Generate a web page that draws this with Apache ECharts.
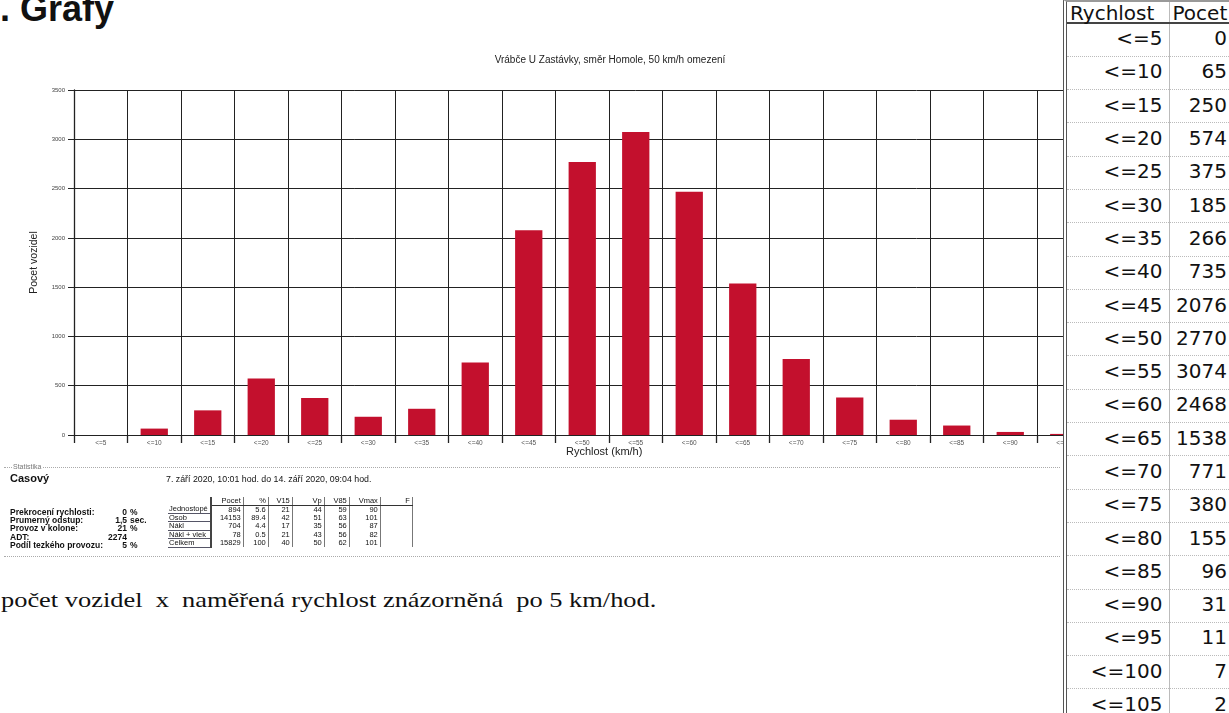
<!DOCTYPE html>
<html><head><meta charset="utf-8">
<script src="https://cdn.jsdelivr.net/npm/echarts@6/dist/echarts.min.js"></script>
<style>
html,body{margin:0;padding:0;background:#fff;width:1229px;height:713px;overflow:hidden;}
body{position:relative;font-family:"Liberation Sans",Arial,sans-serif;color:#111;}
#heading{position:absolute;left:0;top:-9px;font-size:36px;line-height:1;font-weight:bold;color:#111;white-space:nowrap;}
#chart{position:absolute;left:0;top:0;width:1229px;height:470px;}
#statbox{position:absolute;left:4px;top:467px;width:1056px;height:88px;border-top:1px dotted #aaa;border-bottom:1px dotted #aaa;}
.abs{position:absolute;white-space:nowrap;}
#statlegend{left:8px;top:-5px;font-size:7px;color:#777;background:#fff;padding:0 1px;line-height:8px;}
#casovy{left:6px;top:4px;font-size:11px;font-weight:bold;line-height:12px;}
.slab{font-size:8.5px;font-weight:bold;line-height:8px;}
.sval{font-size:8.5px;font-weight:bold;line-height:8px;text-align:right;width:40px;}
.sunit{font-size:8.5px;font-weight:bold;line-height:8px;}
#daterange{left:162px;top:7px;font-size:8.8px;line-height:9px;}
table.cls{position:absolute;left:164px;top:29px;border-collapse:collapse;font-size:7.5px;line-height:7.5px;}
table.cls td{padding:0 2px 0 1px;height:7.5px;text-align:right;border-right:1px solid #777;white-space:nowrap;}
table.cls tr.hdr td{border-bottom:1px solid #333;}
table.cls td.lab{text-align:left;border-bottom:1px solid #556;border-right:2px solid #444;width:36px;}
table.cls tr.hdr td.lab{border-bottom:none;border-right:2px solid #444;}
#caption{position:absolute;left:1px;top:587px;font-family:"Liberation Serif","Times New Roman",serif;font-size:22px;line-height:26px;white-space:pre;color:#111;transform:scaleX(1.2);transform-origin:0 0;}
#rtable{position:absolute;left:1063px;top:0px;width:170px;height:713px;background:#fff;border-left:4px double #555;border-top:2px solid #999;box-sizing:border-box;overflow:hidden;}
table.rt{border-collapse:collapse;table-layout:fixed;width:164px;font-family:"DejaVu Sans","Liberation Sans",sans-serif;font-size:20px;color:#111;}
table.rt td{box-sizing:border-box;height:33.3px;padding:0 0 3px 0;text-align:right;border-bottom:1px dotted #bbb;line-height:20px;white-space:nowrap;}
table.rt td.c1{width:102px;border-right:1px solid #bbb;padding-right:6px;}
table.rt td.c2{width:62px;padding-right:4px;}
table.rt tr.h td{height:19px;line-height:18px;border-bottom:2px solid #444;text-align:left;padding:2px 0 0 3px;vertical-align:top;}
</style></head>
<body>
<div id="heading">. Grafy</div>
<div id="chart"></div>
<div id="statbox">
  <div class="abs" id="statlegend">Statistika</div>
  <div class="abs" id="casovy">Casový</div>
  <div class="abs" id="daterange"></div>
  <div id="statleft"></div>
  <table class="cls" id="clstable"></table>
</div>
<div id="caption">počet vozidel  x  naměřená rychlost znázorněná  po 5 km/hod.</div>
<div id="rtable"><table class="rt" id="rt"></table></div>
<script>
// ---- data ----
const categories = ['<=5','<=10','<=15','<=20','<=25','<=30','<=35','<=40','<=45','<=50','<=55','<=60','<=65','<=70','<=75','<=80','<=85','<=90','<=95','<=100','<=105'];
const counts = [0,65,250,574,375,185,266,735,2076,2770,3074,2468,1538,771,380,155,96,31,11,7,2];
const yMin = 0, yMax = 3500, yStep = 500;
const chartTitle = 'Vrábče U Zastávky, směr Homole, 50 km/h omezení';
const xName = 'Rychlost (km/h)';
const yName = 'Pocet vozidel';
const dateRange = '7. září 2020, 10:01 hod. do 14. září 2020, 09:04 hod.';
const statLabels = ['Prekrocení rychlosti:','Prumerný odstup:','Provoz v kolone:','ADT:','Podíl tezkého provozu:'];
const statValues = ['0','1,5','21','2274','5'];
const statUnits = ['%','sec.','%','','%'];
const classRows = ['Jednostopé','Osob','Nákl','Nákl + vlek','Celkem'];
const classHeaders = ['Pocet','%','V15','Vp','V85','Vmax','F'];
const classCount = [894,14153,704,78,15829];
const classPct = ['5.6','89.4','4.4','0.5','100'];
const classV15 = [21,42,17,21,40];
const classVp = [44,51,35,43,50];
const classV85 = [59,63,56,56,62];
const classVmax = [90,101,87,82,101];
const tableHeaders = ['Rychlost','Pocet'];

// ---- chart ----
const chart = echarts.init(document.getElementById('chart'), null, {renderer:'canvas'});
const gridLeft = 74, gridTop = 90, bandW = 53.5, gridH = 345;
const lineC = '#222';
chart.setOption({
  animation:false,
  grid:{left:gridLeft, top:gridTop, width:bandW*categories.length, height:gridH, containLabel:false},
  xAxis:{type:'category', data:categories, boundaryGap:true,
    axisLine:{lineStyle:{color:lineC,width:1.2}},
    axisTick:{show:true,length:8,lineStyle:{color:lineC,width:1.3}},
    splitLine:{show:true,lineStyle:{color:lineC,width:1}},
    axisLabel:{interval:0,fontSize:6.5,color:'#555',margin:5,fontFamily:'Liberation Sans'}},
  yAxis:{type:'value', min:yMin, max:yMax, interval:yStep,
    axisLine:{show:true,lineStyle:{color:lineC,width:1.3}},
    axisTick:{show:true,length:6,lineStyle:{color:lineC}},
    splitLine:{show:true,lineStyle:{color:lineC,width:1}},
    axisLabel:{fontSize:6,color:'#444',margin:9,fontFamily:'Liberation Sans',formatter:v=>String(v)},
    name:yName, nameLocation:'middle', nameGap:34, nameRotate:90,
    nameTextStyle:{fontSize:10.5,color:'#222',fontFamily:'Liberation Sans'}},
  series:[{type:'bar', data:counts, barWidth:'51%', itemStyle:{color:'#c3102d'}}],
  graphic:[
    {type:'text', x:610, y:60, style:{text:chartTitle, fill:'#222', font:'10px "Liberation Sans"', textAlign:'center', textVerticalAlign:'middle'}},
    {type:'text', x:566, y:452, style:{text:xName, fill:'#222', font:'11px "Liberation Sans"', textAlign:'left', textVerticalAlign:'middle'}}
  ]
});

// ---- statistics panel ----
document.getElementById('daterange').textContent = dateRange;
const sl = document.getElementById('statleft');
statLabels.forEach((t,i)=>{
  const y = 40 + i*8.2;
  sl.insertAdjacentHTML('beforeend',
    `<div class="abs slab" style="left:6px;top:${y}px">${t}</div>`+
    `<div class="abs sval" style="left:83px;top:${y}px">${statValues[i]}</div>`+
    `<div class="abs sunit" style="left:126px;top:${y}px">${statUnits[i]}</div>`);
});
const ct = document.getElementById('clstable');
let h = '<tr class="hdr"><td class="lab"></td>' + classHeaders.map(c=>`<td>${c}</td>`).join('') + '</tr>';
classRows.forEach((r,i)=>{
  h += `<tr><td class="lab">${r}</td><td style="width:28px">${classCount[i]}</td><td style="width:21px">${classPct[i]}</td><td style="width:20px">${classV15[i]}</td><td style="width:28px">${classVp[i]}</td><td style="width:21px">${classV85[i]}</td><td style="width:27px">${classVmax[i]}</td><td style="width:28px"></td></tr>`;
});
ct.innerHTML = h;

// ---- right table ----
const rt = document.getElementById('rt');
let rh = `<tr class="h"><td class="c1">${tableHeaders[0]}</td><td class="c2">${tableHeaders[1]}</td></tr>`;
categories.forEach((c,i)=>{
  rh += `<tr><td class="c1">${c.replace('<','&lt;')}</td><td class="c2">${counts[i]}</td></tr>`;
});
rt.innerHTML = rh;
</script>
</body></html>
